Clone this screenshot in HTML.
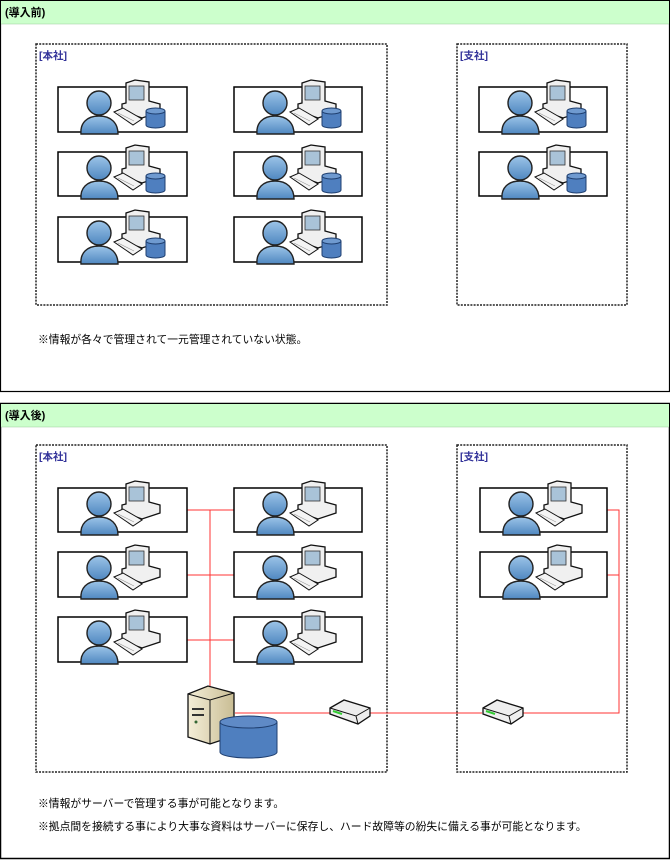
<!DOCTYPE html>
<html><head><meta charset="utf-8"><style>
html,body{margin:0;padding:0;background:#fff;width:670px;height:860px;overflow:hidden}
svg{display:block}
text{font-family:"Liberation Sans","Noto Sans CJK JP",sans-serif}
</style></head><body>
<svg width="670" height="860" viewBox="0 0 670 860" xmlns="http://www.w3.org/2000/svg">
<defs>
<linearGradient id="pg" x1="0" y1="0" x2="0" y2="1"><stop offset="0" stop-color="#9cc4e8"/><stop offset="1" stop-color="#4f87c0"/></linearGradient>
<linearGradient id="sv" x1="0" y1="0" x2="1" y2="0"><stop offset="0" stop-color="#f4eed8"/><stop offset="1" stop-color="#c9bd94"/></linearGradient>
<g id="pc">
  <path d="M68,-4 L77,-7 L91,-5 L91,14 L102,17 L102,25 L84,31 L64,24 L64,17 L68,16 Z" fill="#f0f0f0" stroke="#111" stroke-width="1.3"/>
  <rect x="71" y="-1" width="15" height="14" fill="#a9c3d8" stroke="#333" stroke-width="0.8"/>
  <path d="M56,25 L65,21 L84,32 L75,38 Z" fill="#f4f4f4" stroke="#111" stroke-width="1"/>
  <path d="M60,26 L76,34" stroke="#999" stroke-width="0.6"/>
  <path d="M23,47 C22,36 29,29 41,29 C53,29 60,36 60,47 Z" fill="url(#pg)" stroke="#222" stroke-width="1.4"/>
  <circle cx="41" cy="16" r="12" fill="url(#pg)" stroke="#222" stroke-width="1.4"/>
</g>
<g id="db">
  <path d="M88,24 L88,38 A9.5,3 0 0 0 107,38 L107,24" fill="#4f7fbf" stroke="#1f3f70" stroke-width="1"/>
  <ellipse cx="97.5" cy="24" rx="9.5" ry="3" fill="#6f9ad0" stroke="#1f3f70" stroke-width="1"/>
</g>
<g id="sw">
  <path d="M0,8 L14,0 L40,8 L40,16 L28,24 L0,14 Z" fill="#eee" stroke="#111" stroke-width="1.3"/>
  <path d="M0,8 L26,16 L40,8 M26,16 L28,24" fill="none" stroke="#111" stroke-width="1"/>
  <path d="M3,11 L12,14" stroke="#3c3" stroke-width="2"/>
</g>
</defs>

<rect x="0.5" y="0.5" width="669" height="391" fill="#fff" stroke="#000" stroke-width="1.2"/>
<rect x="1" y="1" width="668" height="23" fill="#ccffcc"/>
<line x1="1" y1="24" x2="669" y2="24" stroke="#9c9" stroke-width="0.6"/>
<text x="5" y="16" font-size="11" font-weight="bold">(導入前)</text>

<rect x="36" y="44" width="351" height="261" fill="none" stroke="#222" stroke-width="1.5" stroke-dasharray="2,1.2"/>
<text x="39" y="59" font-size="10.5" fill="#33339a" font-weight="bold">[本社]</text>
<rect x="457" y="44" width="170" height="261" fill="none" stroke="#222" stroke-width="1.5" stroke-dasharray="2,1.2"/>
<text x="460" y="59" font-size="10.5" fill="#33339a" font-weight="bold">[支社]</text>

<g fill="#fff" stroke="#000" stroke-width="1.5">
<rect x="58" y="87" width="129" height="45"/><rect x="234" y="87" width="128" height="45"/>
<rect x="58" y="152" width="129" height="44"/><rect x="234" y="152" width="128" height="44"/>
<rect x="58" y="217" width="129" height="45"/><rect x="234" y="217" width="128" height="45"/>
<rect x="479" y="87" width="128" height="45"/><rect x="479" y="152" width="128" height="44"/>
</g>
<g transform="translate(58,87)"><use href="#pc"/><use href="#db"/></g>
<g transform="translate(234,87)"><use href="#pc"/><use href="#db"/></g>
<g transform="translate(58,152)"><use href="#pc"/><use href="#db"/></g>
<g transform="translate(234,152)"><use href="#pc"/><use href="#db"/></g>
<g transform="translate(58,217)"><use href="#pc"/><use href="#db"/></g>
<g transform="translate(234,217)"><use href="#pc"/><use href="#db"/></g>
<g transform="translate(479,87)"><use href="#pc"/><use href="#db"/></g>
<g transform="translate(479,152)"><use href="#pc"/><use href="#db"/></g>

<text x="38" y="343" font-size="10.8">※情報が各々で管理されて一元管理されていない状態。</text>

<rect x="0.5" y="403.5" width="669" height="455" fill="#fff" stroke="#000" stroke-width="1.5"/>
<rect x="1" y="404" width="668" height="23" fill="#ccffcc"/>
<line x1="1" y1="427" x2="669" y2="427" stroke="#9c9" stroke-width="0.6"/>
<text x="5" y="419" font-size="11" font-weight="bold">(導入後)</text>

<rect x="36" y="445" width="351" height="327" fill="none" stroke="#222" stroke-width="1.5" stroke-dasharray="2,1.2"/>
<text x="39" y="460" font-size="10.5" fill="#33339a" font-weight="bold">[本社]</text>
<rect x="457" y="445" width="170" height="327" fill="none" stroke="#222" stroke-width="1.5" stroke-dasharray="2,1.2"/>
<text x="460" y="460" font-size="10.5" fill="#33339a" font-weight="bold">[支社]</text>

<g stroke="#f33" stroke-width="1" fill="none">
<path d="M187,510 L210,510 L210,686"/>
<path d="M187,575 L234,575 M187,640 L234,640 M210,510 L234,510"/>
<path d="M235,713 L330,713 M370,713 L482,713 M522,713 L619,713 L619,510 L607,510 M619,575 L607,575"/>
</g>

<g fill="#fff" stroke="#000" stroke-width="1.5">
<rect x="58" y="488" width="129" height="44"/><rect x="234" y="488" width="128" height="44"/>
<rect x="58" y="552" width="129" height="45"/><rect x="234" y="552" width="128" height="45"/>
<rect x="58" y="617" width="129" height="45"/><rect x="234" y="617" width="128" height="45"/>
<rect x="480" y="488" width="127" height="44"/><rect x="480" y="552" width="127" height="45"/>
</g>
<g transform="translate(58,488)"><use href="#pc"/></g>
<g transform="translate(234,488)"><use href="#pc"/></g>
<g transform="translate(58,552)"><use href="#pc"/></g>
<g transform="translate(234,552)"><use href="#pc"/></g>
<g transform="translate(58,617)"><use href="#pc"/></g>
<g transform="translate(234,617)"><use href="#pc"/></g>
<g transform="translate(480,488)"><use href="#pc"/></g>
<g transform="translate(480,552)"><use href="#pc"/></g>

<path d="M188,694 L208,686 L234,693 L234,736 L210,744 L188,737 Z" fill="url(#sv)" stroke="#111" stroke-width="1.3"/>
<path d="M188,694 L210,700 L234,693 M210,700 L210,744" fill="none" stroke="#111" stroke-width="1"/>
<rect x="192" y="708" width="12" height="2" fill="#333"/><rect x="192" y="714" width="12" height="2" fill="#333"/>
<circle cx="196" cy="722" r="1.5" fill="#363"/>
<path d="M220,722 L220,752 A28.5,6 0 0 0 277,752 L277,722" fill="#4f7fbf" stroke="#1f3f70" stroke-width="1"/>
<ellipse cx="248.5" cy="722" rx="28.5" ry="6" fill="#5f8ac6" stroke="#1f3f70" stroke-width="1"/>

<g transform="translate(330,700)"><use href="#sw"/></g>
<g transform="translate(483,700)"><use href="#sw"/></g>

<text x="38" y="807" font-size="10.8">※情報がサーバーで管理する事が可能となります。</text>
<text x="38" y="830" font-size="10.8">※拠点間を接続する事により大事な資料はサーバーに保存し、ハード故障等の紛失に備える事が可能となります。</text>
</svg>
</body></html>
